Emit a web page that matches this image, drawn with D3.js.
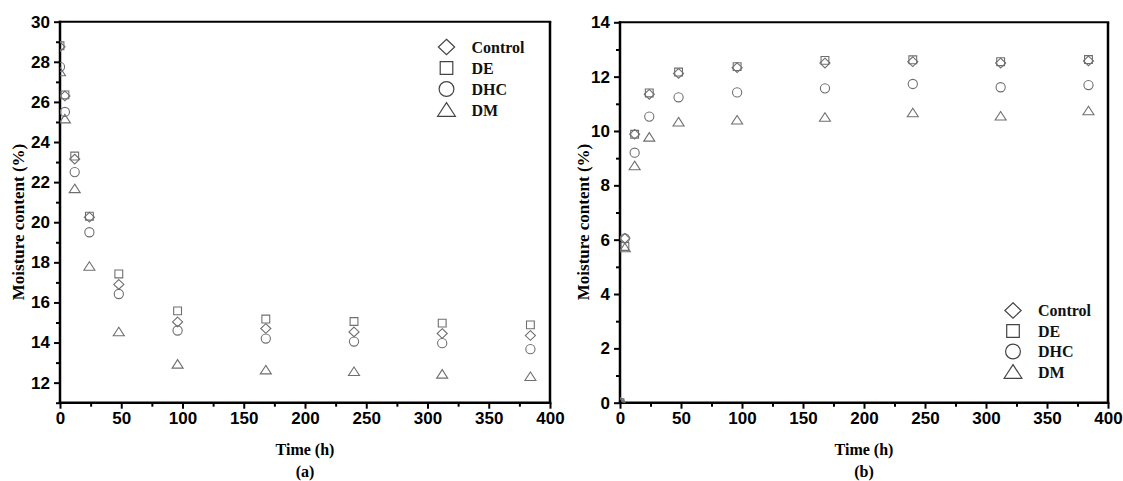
<!DOCTYPE html>
<html><head><meta charset="utf-8">
<script src="https://cdn.jsdelivr.net/npm/d3@7"></script>
<style>
html,body{margin:0;padding:0;background:#fff;}
svg{display:block;}
</style></head>
<body>
<svg id="c" width="1123" height="481"></svg>
<script>
// ---- data ----
const seriesNames = ["Control", "DE", "DHC", "DM"];
const seriesShapes = ["diamond", "square", "circle", "triangle"];

const timeA = [0, 4, 12, 24, 48, 96, 168, 240, 312, 384];
const controlA = [28.75, 26.3, 23.15, 20.25, 16.9, 15.03, 14.7, 14.53, 14.45, 14.35];
const deA = [28.8, 26.35, 23.3, 20.3, 17.42, 15.58, 15.17, 15.05, 14.97, 14.88];
const dhcA = [27.75, 25.5, 22.5, 19.5, 16.42, 14.6, 14.2, 14.05, 13.97, 13.67];
const dmA = [27.5, 25.15, 21.67, 17.8, 14.53, 12.92, 12.63, 12.55, 12.42, 12.3];

const timeB = [0, 4, 12, 24, 48, 96, 168, 240, 312, 384];
const controlB = [0, 6.05, 9.88, 11.35, 12.12, 12.33, 12.5, 12.55, 12.5, 12.58];
const deB = [0, 5.75, 9.88, 11.4, 12.17, 12.37, 12.6, 12.62, 12.55, 12.63];
const dhcB = [0, 6.05, 9.2, 10.53, 11.24, 11.42, 11.57, 11.73, 11.61, 11.69];
const dmB = [0, 5.7, 8.72, 9.77, 10.33, 10.4, 10.5, 10.67, 10.55, 10.74];

const xTicks = [0, 50, 100, 150, 200, 250, 300, 350, 400];
const yTicksA = [12, 14, 16, 18, 20, 22, 24, 26, 28, 30];
const yTicksB = [0, 2, 4, 6, 8, 10, 12, 14];

const xLabel = "Time (h)";
const yLabel = "Moisture content (%)";

// ---- drawing ----
const svg = d3.select("#c");

function shapePath(type, r) {
  if (type === "circle") {
    return `M${r},0A${r},${r} 0 1,1 ${-r},0A${r},${r} 0 1,1 ${r},0Z`;
  }
  if (type === "square") {
    const s = r * 0.85;
    return `M${-s},${-s}H${s}V${s}H${-s}Z`;
  }
  if (type === "diamond") {
    const w = r * 1.1, h = r * 1.05;
    return `M0,${-h}L${w},0L0,${h}L${-w},0Z`;
  }
  // triangle
  const w = r * 1.2, h = r * 1.0;
  return `M0,${-h}L${w},${h * 0.85}L${-w},${h * 0.85}Z`;
}

function panel(opts) {
  const { id, x0, x1, yTop, yBot, yDomain, yTicks, times, series, legend, yTitleX, subLabel } = opts;
  const g = svg.append("g");
  const x = d3.scaleLinear().domain([0, 400]).range([x0, x1]);
  const y = d3.scaleLinear().domain(yDomain).range([yBot, yTop]);

  svg.append("clipPath").attr("id", "clip" + id)
    .append("rect").attr("x", x0).attr("y", yTop).attr("width", x1 - x0).attr("height", yBot - yTop);

  const yMinor = d3.range(Math.ceil(yDomain[0]), yDomain[1] + 0.001, 1).filter(v => !yTicks.includes(v));
  const xMinor = d3.range(25, 400, 50);

  const axL = g.append("g").attr("transform", `translate(${x0},0)`)
    .call(d3.axisLeft(y).tickValues(yTicks).tickSize(6).tickPadding(4).tickFormat(d3.format("d")));
  const axLm = g.append("g").attr("transform", `translate(${x0},0)`)
    .call(d3.axisLeft(y).tickValues(yMinor).tickSize(4).tickFormat(""));
  const axB = g.append("g").attr("transform", `translate(0,${yBot})`)
    .call(d3.axisBottom(x).tickValues(xTicks).tickSize(6).tickPadding(3).tickFormat(d3.format("d")));
  const axBm = g.append("g").attr("transform", `translate(0,${yBot})`)
    .call(d3.axisBottom(x).tickValues(xMinor).tickSize(4).tickFormat(""));

  [axL, axLm, axB, axBm].forEach(a => {
    a.selectAll(".domain").remove();
    a.selectAll(".tick line").attr("stroke", "#000").attr("stroke-width", 2);
    a.selectAll("text").attr("font-family", "Liberation Sans, Arial, sans-serif")
      .attr("font-weight", "bold").attr("font-size", 17).attr("fill", "#000");
  });

  g.append("line").attr("x1", x0).attr("x2", x0).attr("y1", yTop - 1).attr("y2", yBot + 1.25)
    .attr("stroke", "#000").attr("stroke-width", 2.5);
  g.append("line").attr("x1", x0 - 1.25).attr("x2", x1 + 1.25).attr("y1", yBot).attr("y2", yBot)
    .attr("stroke", "#000").attr("stroke-width", 2.5);
  g.append("line").attr("x1", x0 - 1.25).attr("x2", x1 + 1.25).attr("y1", yTop).attr("y2", yTop)
    .attr("stroke", "#000").attr("stroke-width", 2);
  g.append("line").attr("x1", x1).attr("x2", x1).attr("y1", yTop).attr("y2", yBot + 1.25)
    .attr("stroke", "#000").attr("stroke-width", 2.5);

  const pg = g.append("g").attr("clip-path", `url(#clip${id})`);
  series.forEach((vals, si) => {
    pg.selectAll(null).data(vals.map((v, i) => [times[i], v])).enter()
      .append("path")
      .attr("d", shapePath(seriesShapes[si], 4.6))
      .attr("transform", d => `translate(${x(d[0])},${y(d[1])})`)
      .attr("fill", "none").attr("stroke", "#6f6f6f").attr("stroke-width", 1.1);
  });

  const lg = g.append("g");
  seriesNames.forEach((n, i) => {
    const cy = legend.y + i * legend.dy;
    lg.append("path").attr("d", shapePath(seriesShapes[i], 7.4))
      .attr("transform", `translate(${legend.x},${cy})`)
      .attr("fill", "none").attr("stroke", "#444").attr("stroke-width", 1.2);
    lg.append("text").attr("x", legend.x + 25).attr("y", cy + 5.5).text(n)
      .attr("font-family", "Liberation Serif, Times New Roman, serif")
      .attr("font-weight", "bold").attr("font-size", 16).attr("fill", "#111");
  });

  const cx = (x0 + x1) / 2;
  g.append("text").attr("x", cx).attr("y", 455).attr("text-anchor", "middle").text(xLabel)
    .attr("font-family", "Liberation Serif, Times New Roman, serif").attr("font-weight", "bold").attr("font-size", 16);
  g.append("text").attr("x", cx).attr("y", 477).attr("text-anchor", "middle").text(subLabel)
    .attr("font-family", "Liberation Serif, Times New Roman, serif").attr("font-weight", "bold").attr("font-size", 16);
  g.append("text").attr("transform", `translate(${yTitleX},222) rotate(-90)`).attr("text-anchor", "middle").text(yLabel)
    .attr("font-family", "Liberation Serif, Times New Roman, serif").attr("font-weight", "bold").attr("font-size", 17);
}

panel({
  id: "a", x0: 60, x1: 550, yTop: 21.7, yBot: 402.7, yDomain: [11, 30], yTicks: yTicksA,
  times: timeA, series: [controlA, deA, dhcA, dmA],
  legend: { x: 446.5, y: 47, dy: 21 }, yTitleX: 24, subLabel: "(a)"
});
panel({
  id: "b", x0: 620, x1: 1108, yTop: 22.3, yBot: 402.7, yDomain: [0, 14], yTicks: yTicksB,
  times: timeB, series: [controlB, deB, dhcB, dmB],
  legend: { x: 1013, y: 310.5, dy: 20.5 }, yTitleX: 589, subLabel: "(b)"
});
</script>
</body></html>
